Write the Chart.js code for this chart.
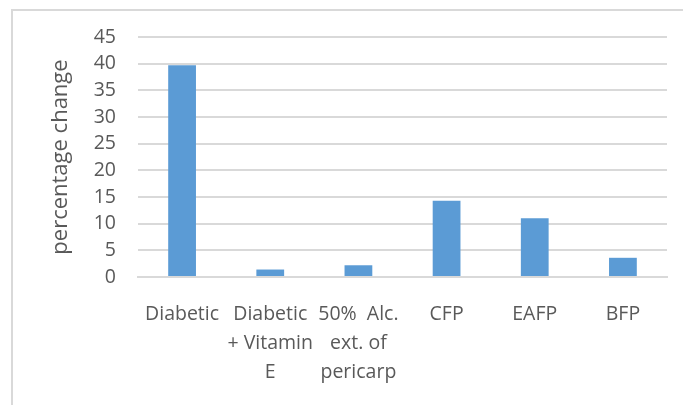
<!DOCTYPE html>
<html>
<head>
<meta charset="utf-8">
<script src="https://cdn.jsdelivr.net/npm/chart.js@4"></script>
<style>
  body { margin: 0; background: #fff; }
  #wrap { position: relative; width: 683px; height: 405px; }
  #frame { position: absolute; left: 11px; top: 9px; width: 680px; height: 400px;
           border-left: 2px solid #d9d9d9; border-top: 2px solid #d9d9d9; }
  canvas { position: absolute; left: 0; top: 0; }
</style>
</head>
<body>
<div id="wrap">
  <div id="frame"></div>
  <canvas id="myBarChart" width="683" height="405"></canvas>
</div>
<script>
const groups = [
  ["Diabetic"],
  ["Diabetic", "+ Vitamin", "E"],
  ["50%  Alc.", "ext. of", "pericarp"],
  "CFP",
  "EAFP",
  "BFP"
];
const percentChange = [39.7, 1.4, 2.2, 14.3, 11.0, 3.6];
const yTicks = [0, 5, 10, 15, 20, 25, 30, 35, 40, 45];

Chart.defaults.font.family = "'Open Sans', sans-serif";
Chart.defaults.color = "#595959";

const ctx = document.getElementById('myBarChart');
new Chart(ctx, {
  type: 'bar',
  data: {
    labels: groups,
    datasets: [{
      label: 'percentage change',
      data: percentChange,
      backgroundColor: '#5b9bd5',
      borderWidth: 0,
      categoryPercentage: 1,
      barPercentage: 0.315
    }]
  },
  options: {
    responsive: false,
    animation: false,
    layout: { padding: { top: 37, right: 16, left: 0, bottom: 0 } },
    plugins: {
      legend: { display: false },
      tooltip: { enabled: false }
    },
    scales: {
      x: {
        grid: { display: false, drawTicks: false },
        border: { color: '#d9d9d9', width: 2 },
        ticks: {
          autoSkip: false,
          maxRotation: 0,
          padding: 23,
          font: { size: 19.5, lineHeight: 1.48 }
        },
        afterFit: (scale) => { scale.height = 128; }
      },
      y: {
        min: 0,
        max: 45,
        afterBuildTicks: (scale) => { scale.ticks = yTicks.map(v => ({ value: v })); },
        grid: { color: '#d9d9d9', lineWidth: 2, drawTicks: false },
        border: { display: false },
        ticks: { padding: 22, font: { size: 19.5 } },
        title: {
          display: true,
          text: 'percentage change',
          font: { size: 22 },
          padding: { top: 48, bottom: 0 }
        },
        afterFit: (scale) => { scale.width = 138; }
      }
    }
  }
});
</script>
</body>
</html>
